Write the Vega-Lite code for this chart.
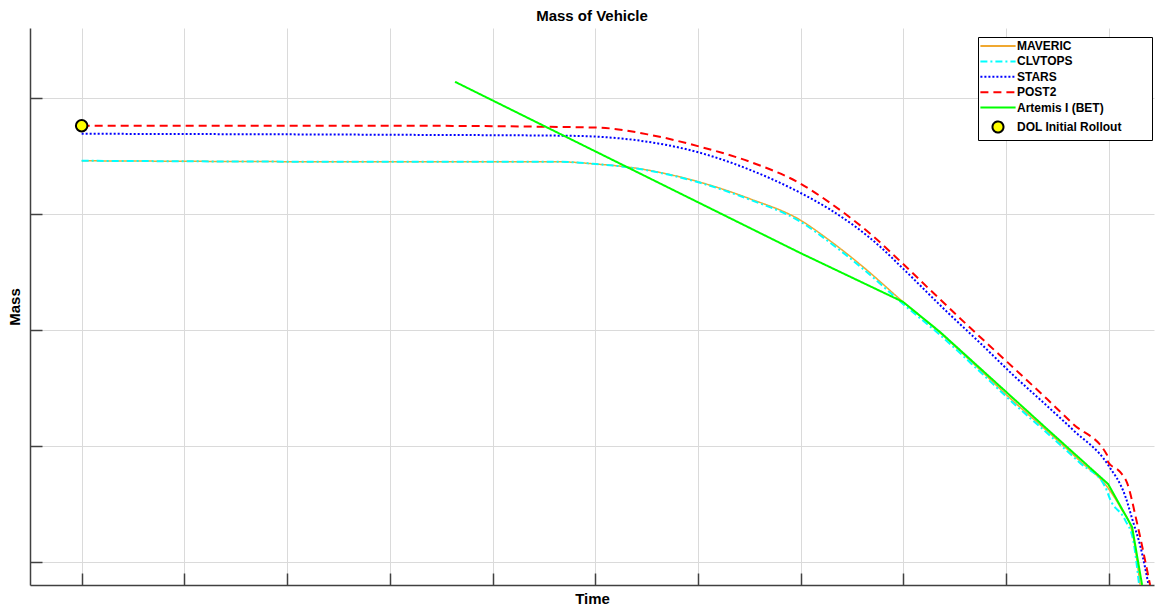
{
  "$schema": "https://vega.github.io/schema/vega-lite/v6.json",
  "width": 1124,
  "height": 557,
  "autosize": {"type": "none"},
  "padding": {"left": 30, "top": 28, "right": 2, "bottom": 25},
  "background": "white",
  "title": {"text": "Mass of Vehicle", "fontSize": 15, "fontWeight": "bold", "font": "Liberation Sans", "color": "black", "offset": 4, "anchor": "middle"},
  "config": {"view": {"stroke": null}, "font": "Liberation Sans"},
  "datasets": {
    "curves": [
      {"series": "MAVERIC", "t": 0, "m": 3.46},
      {"series": "MAVERIC", "t": 3.099, "m": 3.451},
      {"series": "MAVERIC", "t": 4.657, "m": 3.451},
      {"series": "MAVERIC", "t": 4.979, "m": 3.434},
      {"series": "MAVERIC", "t": 5.368, "m": 3.4},
      {"series": "MAVERIC", "t": 6.021, "m": 3.275},
      {"series": "MAVERIC", "t": 6.507, "m": 3.132},
      {"series": "MAVERIC", "t": 6.994, "m": 2.95},
      {"series": "MAVERIC", "t": 7.286, "m": 2.77},
      {"series": "MAVERIC", "t": 7.608, "m": 2.545},
      {"series": "MAVERIC", "t": 7.997, "m": 2.243},
      {"series": "MAVERIC", "t": 8.357, "m": 1.976},
      {"series": "MAVERIC", "t": 8.747, "m": 1.657},
      {"series": "MAVERIC", "t": 9.068, "m": 1.389},
      {"series": "MAVERIC", "t": 9.399, "m": 1.13},
      {"series": "MAVERIC", "t": 9.72, "m": 0.871},
      {"series": "MAVERIC", "t": 9.993, "m": 0.638},
      {"series": "MAVERIC", "t": 10.11, "m": 0.475},
      {"series": "MAVERIC", "t": 10.227, "m": 0.259},
      {"series": "MAVERIC", "t": 10.305, "m": -0.198},
      {"series": "CLVTOPS", "t": 0, "m": 3.46},
      {"series": "CLVTOPS", "t": 3.099, "m": 3.451},
      {"series": "CLVTOPS", "t": 4.657, "m": 3.451},
      {"series": "CLVTOPS", "t": 4.979, "m": 3.434},
      {"series": "CLVTOPS", "t": 5.368, "m": 3.398},
      {"series": "CLVTOPS", "t": 6.021, "m": 3.27},
      {"series": "CLVTOPS", "t": 6.507, "m": 3.124},
      {"series": "CLVTOPS", "t": 6.994, "m": 2.937},
      {"series": "CLVTOPS", "t": 7.286, "m": 2.754},
      {"series": "CLVTOPS", "t": 7.608, "m": 2.527},
      {"series": "CLVTOPS", "t": 7.997, "m": 2.225},
      {"series": "CLVTOPS", "t": 8.357, "m": 1.958},
      {"series": "CLVTOPS", "t": 8.747, "m": 1.64},
      {"series": "CLVTOPS", "t": 9.068, "m": 1.372},
      {"series": "CLVTOPS", "t": 9.399, "m": 1.113},
      {"series": "CLVTOPS", "t": 9.72, "m": 0.854},
      {"series": "CLVTOPS", "t": 9.964, "m": 0.65},
      {"series": "CLVTOPS", "t": 10.013, "m": 0.54},
      {"series": "CLVTOPS", "t": 10.159, "m": 0.362},
      {"series": "CLVTOPS", "t": 10.237, "m": 0.19},
      {"series": "CLVTOPS", "t": 10.295, "m": -0.198},
      {"series": "STARS", "t": 0, "m": 3.693},
      {"series": "STARS", "t": 3.099, "m": 3.684},
      {"series": "STARS", "t": 4.725, "m": 3.676},
      {"series": "STARS", "t": 5.368, "m": 3.641},
      {"series": "STARS", "t": 6.021, "m": 3.529},
      {"series": "STARS", "t": 6.507, "m": 3.382},
      {"series": "STARS", "t": 6.994, "m": 3.185},
      {"series": "STARS", "t": 7.286, "m": 3.04},
      {"series": "STARS", "t": 7.773, "m": 2.72},
      {"series": "STARS", "t": 7.997, "m": 2.53},
      {"series": "STARS", "t": 8.425, "m": 2.157},
      {"series": "STARS", "t": 8.747, "m": 1.889},
      {"series": "STARS", "t": 9.068, "m": 1.613},
      {"series": "STARS", "t": 9.399, "m": 1.346},
      {"series": "STARS", "t": 9.652, "m": 1.139},
      {"series": "STARS", "t": 9.993, "m": 0.837},
      {"series": "STARS", "t": 10.163, "m": 0.561},
      {"series": "STARS", "t": 10.231, "m": 0.362},
      {"series": "STARS", "t": 10.309, "m": 0.129},
      {"series": "STARS", "t": 10.387, "m": -0.198},
      {"series": "POST2", "t": 0, "m": 3.762},
      {"series": "POST2", "t": 3.099, "m": 3.762},
      {"series": "POST2", "t": 4.56, "m": 3.753},
      {"series": "POST2", "t": 5.046, "m": 3.745},
      {"series": "POST2", "t": 5.533, "m": 3.684},
      {"series": "POST2", "t": 6.021, "m": 3.581},
      {"series": "POST2", "t": 6.507, "m": 3.451},
      {"series": "POST2", "t": 6.994, "m": 3.265},
      {"series": "POST2", "t": 7.286, "m": 3.097},
      {"series": "POST2", "t": 7.705, "m": 2.81},
      {"series": "POST2", "t": 7.968, "m": 2.595},
      {"series": "POST2", "t": 8.26, "m": 2.347},
      {"series": "POST2", "t": 8.62, "m": 2.045},
      {"series": "POST2", "t": 9.01, "m": 1.726},
      {"series": "POST2", "t": 9.399, "m": 1.405},
      {"series": "POST2", "t": 9.652, "m": 1.19},
      {"series": "POST2", "t": 9.983, "m": 0.923},
      {"series": "POST2", "t": 9.993, "m": 0.863},
      {"series": "POST2", "t": 10.11, "m": 0.777},
      {"series": "POST2", "t": 10.178, "m": 0.682},
      {"series": "POST2", "t": 10.275, "m": 0.336},
      {"series": "POST2", "t": 10.402, "m": -0.198},
      {"series": "Artemis I (BET)", "t": 3.635, "m": 4.141},
      {"series": "Artemis I (BET)", "t": 6.994, "m": 2.666},
      {"series": "Artemis I (BET)", "t": 7.997, "m": 2.243},
      {"series": "Artemis I (BET)", "t": 8.357, "m": 1.984},
      {"series": "Artemis I (BET)", "t": 9.399, "m": 1.147},
      {"series": "Artemis I (BET)", "t": 9.993, "m": 0.673},
      {"series": "Artemis I (BET)", "t": 10.227, "m": 0.302},
      {"series": "Artemis I (BET)", "t": 10.324, "m": -0.198}
    ],
    "points": [
      {"series": "DOL Initial Rollout", "t": 0, "m": 3.762}
    ]
  },
  "layer": [
    {
      "data": {"name": "curves"},
      "transform": [{"filter": "datum.series === 'MAVERIC'"}],
      "mark": {"type": "line", "clip": true, "strokeWidth": 1.5, "interpolate": "monotone"},
      "encoding": {
        "x": {"field": "t", "type": "quantitative",
          "scale": {"domain": [-0.503, 10.44], "nice": false, "zero": false},
          "axis": {"title": "Time", "labels": false, "values": [0,1,2,3,4,5,6,7,8,9,10], "tickSize": -12, "tickColor": "#404040", "tickWidth": 1.5, "domainColor": "#404040", "domainWidth": 1.5, "grid": true, "gridColor": "#dadada", "gridWidth": 1, "titleFontSize": 15, "titleFontWeight": "bold", "titleColor": "black", "titlePadding": 6}},
        "y": {"field": "m", "type": "quantitative",
          "scale": {"domain": [-0.198, 4.605], "nice": false, "zero": false},
          "axis": {"title": "Mass", "labels": false, "values": [0,1,2,3,4], "tickSize": -12, "tickColor": "#404040", "tickWidth": 1.5, "domainColor": "#404040", "domainWidth": 1.5, "grid": true, "gridColor": "#dadada", "gridWidth": 1, "titleFontSize": 15, "titleFontWeight": "bold", "titleColor": "black", "titlePadding": 7}},
        "stroke": {"field": "series", "type": "nominal",
          "scale": {"domain": ["MAVERIC", "CLVTOPS", "STARS", "POST2", "Artemis I (BET)", "DOL Initial Rollout"],
                    "range": ["#F0A830", "#00FFFF", "#0000FF", "#FF0000", "#00FF00", "#000000"]},
          "legend": {"title": null, "orient": "none", "legendX": 948, "legendY": 9, "strokeColor": "black", "fillColor": "white", "padding": 3, "labelFontSize": 12, "labelFontWeight": "bold", "labelColor": "black", "labelFont": "Liberation Sans", "symbolStrokeWidth": 2, "symbolSize": 64, "rowPadding": 3.4, "symbolOffset": 11, "labelOffset": 13, "labelExpr": "datum.label + '\u00a0\u00a0\u00a0\u00a0\u00a0\u00a0\u00a0\u00a0\u200b'"}},
        "strokeDash": {"field": "series", "type": "nominal",
          "scale": {"domain": ["MAVERIC", "CLVTOPS", "STARS", "POST2", "Artemis I (BET)", "DOL Initial Rollout"],
                    "range": [[1, 0], [7, 3, 2, 3], [2, 2], [8, 5], [1, 0], [1, 0]]},
          "legend": {"title": null, "labelExpr": "datum.label + '\u00a0\u00a0\u00a0\u00a0\u00a0\u00a0\u00a0\u00a0\u200b'"}}
      }
    },
    {
      "data": {"name": "curves"},
      "transform": [{"filter": "datum.series !== 'MAVERIC' && datum.series !== 'Artemis I (BET)'"}],
      "mark": {"type": "line", "clip": true, "strokeWidth": 2, "interpolate": "monotone"},
      "encoding": {
        "x": {"field": "t", "type": "quantitative"},
        "y": {"field": "m", "type": "quantitative"},
        "stroke": {"field": "series", "type": "nominal"},
        "strokeDash": {"field": "series", "type": "nominal"}
      }
    },
    {
      "data": {"name": "curves"},
      "transform": [{"filter": "datum.series === 'Artemis I (BET)'"}],
      "mark": {"type": "line", "clip": true, "strokeWidth": 2},
      "encoding": {
        "x": {"field": "t", "type": "quantitative"},
        "y": {"field": "m", "type": "quantitative"},
        "stroke": {"field": "series", "type": "nominal"},
        "strokeDash": {"field": "series", "type": "nominal"}
      }
    },
    {
      "data": {"name": "points"},
      "mark": {"type": "point", "filled": true, "opacity": 1, "size": 70, "strokeWidth": 2, "clip": false},
      "encoding": {
        "x": {"field": "t", "type": "quantitative"},
        "y": {"field": "m", "type": "quantitative"},
        "stroke": {"field": "series", "type": "nominal"},
        "fill": {"field": "series", "type": "nominal",
          "scale": {"domain": ["MAVERIC", "CLVTOPS", "STARS", "POST2", "Artemis I (BET)", "DOL Initial Rollout"],
                    "range": ["#F0A830", "#00FFFF", "#0000FF", "#FF0000", "#00FF00", "#FFFF00"]},
          "legend": {"title": null, "labelExpr": "datum.label + '\u00a0\u00a0\u00a0\u00a0\u00a0\u00a0\u00a0\u00a0\u200b'"}},
        "shape": {"field": "series", "type": "nominal",
          "scale": {"domain": ["MAVERIC", "CLVTOPS", "STARS", "POST2", "Artemis I (BET)", "DOL Initial Rollout"],
                    "range": ["M-4.4,0L4.4,0", "M-4.4,0L4.4,0", "M-4.4,0L4.4,0", "M-4.4,0L4.4,0", "M-4.4,0L4.4,0", "M1.375,0A1.375,1.375,0,1,1,-1.375,0A1.375,1.375,0,1,1,1.375,0Z"]},
          "legend": {"title": null, "labelExpr": "datum.label + '\u00a0\u00a0\u00a0\u00a0\u00a0\u00a0\u00a0\u00a0\u200b'"}}
      }
    }
  ]
}
